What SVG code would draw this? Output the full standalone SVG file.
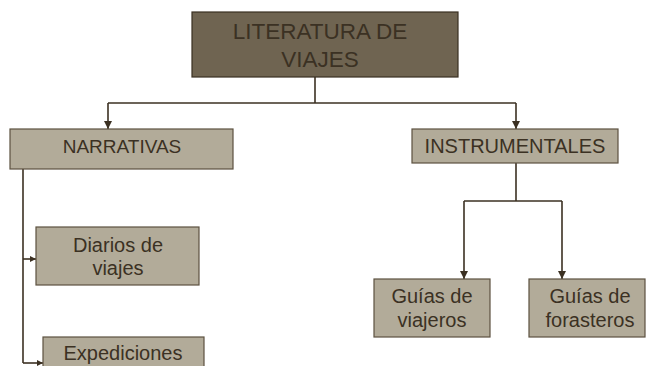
<svg xmlns="http://www.w3.org/2000/svg" width="648" height="366" viewBox="0 0 648 366">
<style>
.box{fill:#b2ab99;stroke:#5c5140;stroke-width:1.2}
.top{fill:#6f6451;stroke:#3a3022;stroke-width:1.2}
.t{font-family:"Liberation Sans",Arial,sans-serif;fill:#3b3123;text-anchor:middle}
.c{fill:none;stroke:#3b3022;stroke-width:1.6}
</style>
<defs>
<marker id="ah" viewBox="0 0 10 10" refX="10" refY="5" markerWidth="6" markerHeight="6" markerUnits="userSpaceOnUse" orient="auto">
<path d="M0,0 L10,5 L0,10 z" fill="#3b3022"/>
</marker>
<marker id="ahb" viewBox="0 0 10 10" refX="10" refY="5" markerWidth="8" markerHeight="8" markerUnits="userSpaceOnUse" orient="auto">
<path d="M0,0 L10,5 L0,10 z" fill="#3b3022"/>
</marker>
</defs>
<rect width="648" height="366" fill="#ffffff"/>
<g id="connectors">
<path class="c" d="M315,77 V103"/>
<path class="c" d="M108,103 H516"/>
<path class="c" d="M108,103 V129" marker-end="url(#ahb)"/>
<path class="c" d="M516,103 V129" marker-end="url(#ahb)"/>
<path class="c" d="M516,163 V201"/>
<path class="c" d="M464,201 H562"/>
<path class="c" d="M464,201 V279" marker-end="url(#ahb)"/>
<path class="c" d="M562,201 V279" marker-end="url(#ahb)"/>
<path class="c" d="M23,169 V363"/>
<path class="c" d="M23,259 H36" marker-end="url(#ah)"/>
<path class="c" d="M23,363 H43" marker-end="url(#ah)"/>
</g>
<g id="literatura">
<rect class="top" x="192" y="12" width="266" height="65"/>
<text class="t" x="320" y="39" font-size="22.5">LITERATURA DE</text>
<text class="t" x="320" y="67" font-size="22.5">VIAJES</text>
</g>
<g id="narrativas">
<rect class="box" x="10" y="129" width="223" height="40"/>
<text class="t" x="122" y="153" font-size="19">NARRATIVAS</text>
</g>
<g id="instrumentales">
<rect class="box" x="412" y="129" width="206" height="34"/>
<text class="t" x="515" y="153" font-size="20">INSTRUMENTALES</text>
</g>
<g id="diarios">
<rect class="box" x="36" y="227" width="163" height="58"/>
<text class="t" x="118" y="252" font-size="20">Diarios de</text>
<text class="t" x="118" y="275" font-size="20">viajes</text>
</g>
<g id="expediciones">
<rect class="box" x="43" y="337" width="161" height="40"/>
<text class="t" x="123" y="360" font-size="20">Expediciones</text>
</g>
<g id="guias-viajeros">
<rect class="box" x="374" y="279" width="116" height="58"/>
<text class="t" x="432" y="303" font-size="20">Guías de</text>
<text class="t" x="432" y="327" font-size="20">viajeros</text>
</g>
<g id="guias-forasteros">
<rect class="box" x="529" y="279" width="116" height="58"/>
<text class="t" x="590" y="303" font-size="20">Guías de</text>
<text class="t" x="590" y="327" font-size="20">forasteros</text>
</g>
</svg>
